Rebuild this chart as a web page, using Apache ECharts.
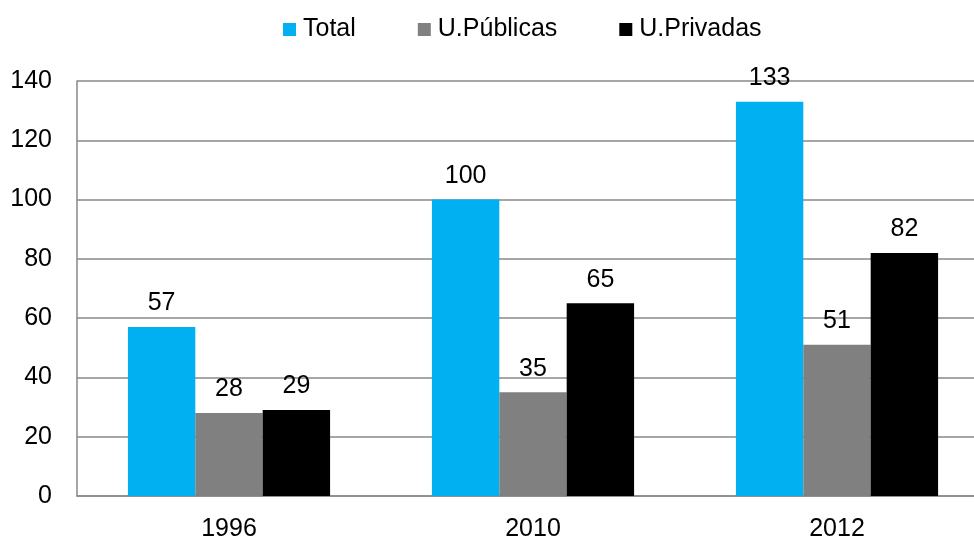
<!DOCTYPE html>
<html><head><meta charset="utf-8">
<script src="https://cdn.jsdelivr.net/npm/echarts@6/dist/echarts.min.js"></script>
<style>html,body{margin:0;padding:0;background:#fff;overflow:hidden}#c{width:974px;height:538px}</style>
</head><body><div id="c"></div>
<script>
const categories = ['1996', '2010', '2012'];
const total = [57, 100, 133];
const publicas = [28, 35, 51];
const privadas = [29, 65, 82];
const yTicks = [0, 20, 40, 60, 80, 100, 120, 140];

const font = 'Liberation Sans, Arial, sans-serif';
const fs = 25;
const lbl = {show: true, position: 'top', distance: 11, color: '#000', fontSize: fs, fontFamily: font};
const chart = echarts.init(document.getElementById('c'), null, {renderer: 'canvas'});
chart.setOption({
  animation: false,
  legend: {
    top: 17, left: 283, padding: 0, itemWidth: 13, itemHeight: 13, itemGap: 62,
    icon: 'rect',
    textStyle: {fontSize: fs, fontFamily: font, color: '#000', padding: [0, 0, 0, 2]},
    data: ['Total', 'U.Públicas', 'U.Privadas']
  },
  grid: {left: 77, top: 81, width: 912, height: 415, containLabel: false, outerBoundsMode: 'none'},
  xAxis: {
    type: 'category', data: categories,
    axisLine: {lineStyle: {color: '#898989', width: 1.5}},
    axisTick: {show: false},
    axisLabel: {color: '#000', fontSize: fs, fontFamily: font, margin: 21}
  },
  yAxis: {
    type: 'value', min: yTicks[0], max: yTicks[yTicks.length - 1], interval: 20,
    axisLine: {show: true, lineStyle: {color: '#898989', width: 1.5}},
    axisTick: {show: false},
    splitLine: {lineStyle: {color: '#898989', width: 1.5}},
    axisLabel: {color: '#000', fontSize: fs, fontFamily: font, margin: 25}
  },
  series: [
    {name: 'Total', type: 'bar', data: total, itemStyle: {color: '#00B0F0'}, barGap: '0%', barCategoryGap: '33.5%', label: lbl},
    {name: 'U.Públicas', type: 'bar', data: publicas, itemStyle: {color: '#808080'}, barGap: '0%', barCategoryGap: '33.5%', label: lbl},
    {name: 'U.Privadas', type: 'bar', data: privadas, itemStyle: {color: '#000000'}, barGap: '0%', barCategoryGap: '33.5%', label: lbl}
  ]
});
</script></body></html>
